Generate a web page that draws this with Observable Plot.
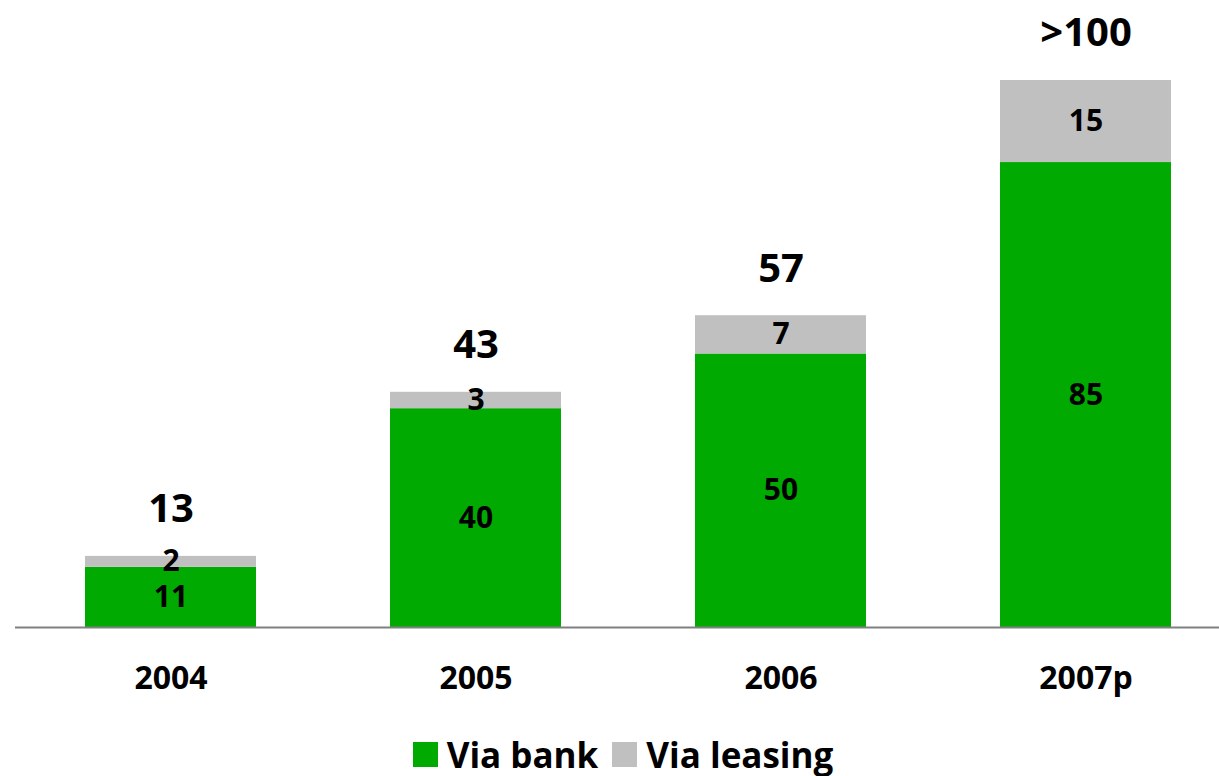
<!DOCTYPE html>
<html>
<head>
<meta charset="utf-8">
<script src="https://cdn.jsdelivr.net/npm/d3@7"></script>
<script src="https://cdn.jsdelivr.net/npm/@observablehq/plot@0.6"></script>
<style>
  html, body { margin: 0; padding: 0; background: #fff; }
  #chart svg text { font-weight: bold; }
  .legend { display: flex; justify-content: center; align-items: center; height: 61px;
    font-family: "Open Sans", sans-serif; font-weight: bold; font-size: 35px; color: #000;
    padding-left: 27px; padding-top: 18px; box-sizing: border-box; width: 1219px; }
  .legend .item { display: flex; align-items: center; margin: 0 7px; }
  .legend .sw { width: 25px; height: 25px; margin-right: 9px; display: inline-block; }
</style>
</head>
<body>
<div id="chart"></div>
<script>
const years = ["2004", "2005", "2006", "2007p"];
const viaBank = [11, 40, 50, 85];
const viaLeasing = [2, 3, 7, 15];
const totalLabels = ["13", "43", "57", ">100"];
const seriesNames = ["Via bank", "Via leasing"];
const seriesColors = ["#00AA00", "#C0C0C0"];

const rows = [];
years.forEach((y, i) => {
  rows.push({year: y, series: seriesNames[0], value: viaBank[i]});
  rows.push({year: y, series: seriesNames[1], value: viaLeasing[i]});
});
const totals = years.map((y, i) => ({year: y, total: viaBank[i] + viaLeasing[i], label: totalLabels[i]}));

const chart = Plot.plot({
  width: 1219,
  height: 715,
  marginTop: 80,
  marginBottom: 88,
  marginLeft: 15,
  marginRight: 0,
  style: {fontFamily: "'Open Sans', sans-serif", color: "#000"},
  x: {domain: years, range: [84, 1172], padding: 0.44, paddingOuter: 0, label: null},
  y: {domain: [0, 100], axis: null},
  color: {domain: seriesNames, range: seriesColors},
  marks: [
    Plot.barY(rows, {x: "year", y: "value", fill: "series", order: seriesNames}),
    Plot.text(rows, Plot.stackY({x: "year", y: "value", z: "series", order: seriesNames, text: "value",
      fontSize: 30, fontWeight: "bold", fill: "#000", lineAnchor: "middle"})),
    Plot.text(totals, {x: "year", y: "total", text: "label", dy: -47, fontSize: 40, fontWeight: "bold",
      fill: "#000", lineAnchor: "middle"}),
    Plot.ruleY([0], {stroke: "#808080", strokeWidth: 2}),
    Plot.axisX({tickSize: 0, tickPadding: 39, fontSize: 32, fontWeight: "bold", label: null})
  ]
});
document.getElementById("chart").appendChild(chart);

const legend = document.createElement("div");
legend.className = "legend";
seriesNames.forEach((name, i) => {
  const item = document.createElement("div");
  item.className = "item";
  const sw = document.createElement("span");
  sw.className = "sw";
  sw.style.background = seriesColors[i];
  const t = document.createElement("span");
  t.textContent = name;
  item.appendChild(sw);
  item.appendChild(t);
  legend.appendChild(item);
});
document.body.appendChild(legend);
</script>
</body>
</html>
